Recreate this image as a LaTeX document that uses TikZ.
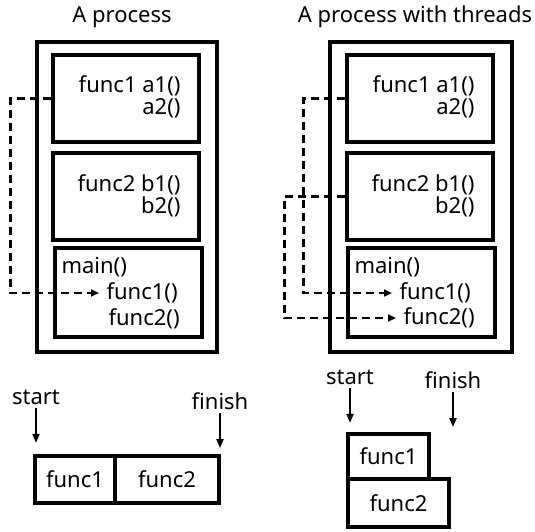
\documentclass[tikz,border=0pt]{standalone}
\usepackage{fontspec}
\setmainfont{Noto Sans}
\usetikzlibrary{arrows.meta}

\tikzset{
  procbox/.style={draw, line width=3.2pt, inner sep=0pt},
  funcbox/.style={draw, line width=3.2pt, inner sep=0pt},
  call/.style={dashed, line width=2.3pt, dash pattern=on 8pt off 5pt,
    -{Triangle[length=8pt,width=7pt]}, shorten >=4pt},
  mark arrow/.style={line width=2pt, -{Triangle[length=9pt,width=7pt]}},
}

\begin{document}
\begin{tikzpicture}[x=1pt, y=-1pt, every node/.style={font=\fontsize{22}{22}\selectfont}]
  \useasboundingbox (0,0) rectangle (535,531);

  % single threaded process
  \node at (122,17) (titleA) {A process};
  \node[procbox, minimum width=180, minimum height=310] at (127,197) (procA) {};
  \node[funcbox, minimum width=146, minimum height=87] at (126,98.5) (funcA1) {};
  \node[funcbox, minimum width=146, minimum height=87] at (126,196.5) (funcA2) {};
  \node[funcbox, minimum width=147, minimum height=89] at (128.5,292.5) (mainA) {};

  \node[anchor=east, align=right] at (184,97) (textA1) {func1 a1()\\a2()};
  \node[anchor=east, align=right] at (184,196) (textA2) {func2 b1()\\b2()};
  \node[anchor=west] at (58,267) (mainTextA) {main()};
  \node[anchor=west] at (103,293) (callA1) {func1()};
  \node[anchor=west] at (105,319) (callA2) {func2()};

  \draw[call] (funcA1.west) -- ++(-41,0) |- (callA1.west);

  % process with threads
  \node at (415,17) (titleB) {A process with threads};
  \node[procbox, minimum width=182, minimum height=310] at (421,197) (procB) {};
  \node[funcbox, minimum width=146, minimum height=87] at (420,98.5) (funcB1) {};
  \node[funcbox, minimum width=146, minimum height=87] at (420,196.5) (funcB2) {};
  \node[funcbox, minimum width=147, minimum height=89] at (421.5,292.5) (mainB) {};

  \node[anchor=east, align=right] at (478,97) (textB1) {func1 a1()\\a2()};
  \node[anchor=east, align=right] at (478,196) (textB2) {func2 b1()\\b2()};
  \node[anchor=west] at (351,267) (mainTextB) {main()};
  \node[anchor=west] at (396,293) (callB1) {func1()};
  \node[anchor=west] at (400,318) (callB2) {func2()};

  \draw[call] (funcB1.west) -- ++(-42,0) |- (callB1.west);
  \draw[call] (funcB2.west) -- ++(-61,0) |- (callB2.west);

  % run order, one after the other
  \node[funcbox, minimum width=80, minimum height=47] at (75,479.5) (runA1) {func1};
  \node[funcbox, minimum width=104, minimum height=47] at (167,479.5) (runA2) {func2};
  \node at (36,397) (startA) {start};
  \node at (220,401) (finishA) {finish};
  \draw[mark arrow] (startA.south) -- ++(0,35);
  \draw[mark arrow] (finishA.south) -- ++(0,35);

  % run order, side by side
  \node[funcbox, minimum width=81, minimum height=45] at (388.5,456.5) (runB1) {func1};
  \node[funcbox, minimum width=101, minimum height=48] at (398.5,503) (runB2) {func2};
  \node at (350,377) (startB) {start};
  \node at (453,380) (finishB) {finish};
  \draw[mark arrow] (startB.south) -- ++(0,35);
  \draw[mark arrow] (finishB.south) -- ++(0,35);
\end{tikzpicture}
\end{document}
